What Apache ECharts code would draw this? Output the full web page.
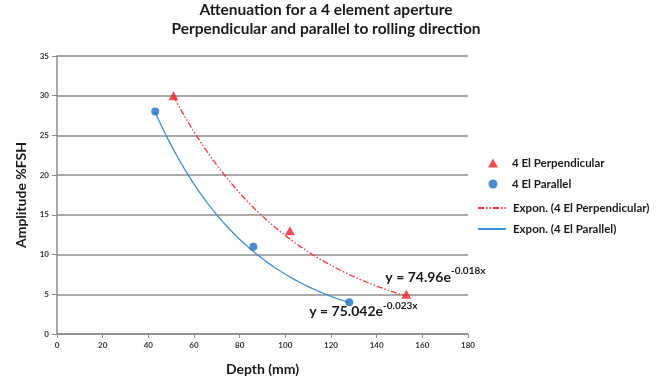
<!DOCTYPE html>
<html>
<head>
<meta charset="utf-8">
<script src="https://cdn.jsdelivr.net/npm/echarts@6/dist/echarts.min.js"></script>
<style>
  html, body { margin: 0; padding: 0; background: #fff; }
  #chart { width: 664px; height: 381px; }
</style>
</head>
<body>
<div id="chart"></div>
<script>
// Measured amplitudes vs. depth for the two probe orientations
const perpDepth = [51, 102, 153];
const perpAmp = [30, 13, 5];
const paraDepth = [43, 86, 128];
const paraAmp = [28, 11, 4];

// Exponential fit coefficients y = a * e^(b x), as printed on the chart
const perpFit = { a: 74.96, b: -0.018 };
const paraFit = { a: 75.042, b: -0.023 };

const xTicks = [0, 20, 40, 60, 80, 100, 120, 140, 160, 180];
const yTicks = [0, 5, 10, 15, 20, 25, 30, 35];

const FONT = 'Lato, "Open Sans", sans-serif';

function pairs(xs, ys) { return xs.map((x, i) => [x, ys[i]]); }

// Sample the fitted curve between the first and last measured depth
function fitCurve(fit, xs) {
  const x0 = xs[0], x1 = xs[xs.length - 1];
  const pts = [];
  const n = 60;
  for (let i = 0; i <= n; i++) {
    const x = x0 + (x1 - x0) * i / n;
    pts.push([x, fit.a * Math.exp(fit.b * x)]);
  }
  return pts;
}

function eqText(fit) {
  return '{m|y = ' + fit.a + 'e}{s|' + fit.b + 'x}';
}

const eqRich = {
  m: { fontFamily: FONT, fontSize: 14, fontWeight: 'bold', color: '#1a1a1a', lineHeight: 18, verticalAlign: 'bottom' },
  s: { fontFamily: FONT, fontSize: 10, fontWeight: 'bold', color: '#1a1a1a', lineHeight: 12, verticalAlign: 'top' }
};

const legendText = { fontFamily: FONT, fontSize: 11.5, fontWeight: 'bold', color: '#1a1a1a', lineHeight: 14 };

const chart = echarts.init(document.getElementById('chart'), null, { renderer: 'canvas' });

chart.setOption({
  backgroundColor: '#ffffff',
  animation: false,
  title: {
    text: 'Attenuation for a 4 element aperture\nPerpendicular and parallel to rolling direction',
    left: 326,
    textAlign: 'center',
    top: 0,
    padding: 0,
    textStyle: { fontFamily: FONT, fontSize: 15.5, fontWeight: 'bold', color: '#1a1a1a', lineHeight: 19 }
  },
  grid: { left: 57, right: 196, top: 56, bottom: 47 },
  legend: [
    {
      // marker entries
      orient: 'vertical',
      left: 488,
      top: 156,
      padding: 0,
      itemWidth: 10,
      itemHeight: 9,
      itemGap: 7,
      symbolKeepAspect: true,
      textStyle: Object.assign({ padding: [0, 0, 0, 9] }, legendText),
      data: [
        { name: '4 El Perpendicular', icon: 'triangle' },
        { name: '4 El Parallel', icon: 'circle' }
      ]
    },
    {
      // trend line entries
      orient: 'vertical',
      left: 477,
      top: 201,
      padding: 0,
      itemWidth: 28,
      itemHeight: 9,
      itemGap: 7,
      textStyle: Object.assign({ padding: [0, 0, 0, 2] }, legendText),
      data: [
        { name: 'Expon. (4 El Perpendicular)', itemStyle: { opacity: 0 } },
        { name: 'Expon. (4 El Parallel)', itemStyle: { opacity: 0 } }
      ]
    }
  ],
  xAxis: {
    type: 'value',
    min: xTicks[0],
    max: xTicks[xTicks.length - 1],
    interval: 20,
    name: 'Depth (mm)',
    nameLocation: 'middle',
    nameGap: 28,
    nameTextStyle: { fontFamily: FONT, fontSize: 14, fontWeight: 'bold', color: '#1a1a1a' },
    axisLine: { show: true, lineStyle: { color: '#8c8c8c', width: 1.5 } },
    axisTick: { show: true, inside: false, length: 4, lineStyle: { color: '#8c8c8c' } },
    axisLabel: { fontFamily: FONT, fontSize: 8, fontWeight: 'bold', color: '#333', margin: 7 },
    splitLine: { show: false }
  },
  yAxis: {
    type: 'value',
    min: yTicks[0],
    max: yTicks[yTicks.length - 1],
    interval: 5,
    name: 'Amplitude %FSH',
    nameLocation: 'middle',
    nameGap: 28,
    nameTextStyle: { fontFamily: FONT, fontSize: 14, fontWeight: 'bold', color: '#1a1a1a' },
    axisLine: { show: true, lineStyle: { color: '#8c8c8c', width: 1.5 } },
    axisTick: { show: true, inside: false, length: 5, lineStyle: { color: '#8c8c8c' } },
    axisLabel: { fontFamily: FONT, fontSize: 8, fontWeight: 'bold', color: '#333', margin: 8 },
    splitLine: { show: true, lineStyle: { color: '#8c8c8c', width: 1.5 } }
  },
  series: [
    {
      name: '4 El Perpendicular',
      type: 'scatter',
      symbol: 'triangle',
      symbolSize: [10, 9],
      itemStyle: { color: '#e8232a' },
      data: pairs(perpDepth, perpAmp),
      z: 5
    },
    {
      name: '4 El Parallel',
      type: 'scatter',
      symbol: 'circle',
      symbolSize: 8,
      itemStyle: { color: '#1f6fc0' },
      data: pairs(paraDepth, paraAmp),
      z: 5
    },
    {
      name: 'Expon. (4 El Perpendicular)',
      type: 'line',
      showSymbol: false,
      symbol: 'none',
      lineStyle: { color: '#ff3030', width: 1.3, type: [6, 2, 1.5, 2, 1.5, 2] },
      itemStyle: { color: '#ff3030' },
      data: fitCurve(perpFit, perpDepth),
      endLabel: {
        show: true,
        formatter: eqText(perpFit),
        rich: eqRich,
        offset: [-29, -21]
      },
      z: 3
    },
    {
      name: 'Expon. (4 El Parallel)',
      type: 'line',
      showSymbol: false,
      symbol: 'none',
      lineStyle: { color: '#3d8fd6', width: 1.3 },
      itemStyle: { color: '#3d8fd6' },
      data: fitCurve(paraFit, paraDepth),
      endLabel: {
        show: true,
        formatter: eqText(paraFit),
        rich: eqRich,
        offset: [-48, 7]
      },
      z: 3
    }
  ]
});
</script>
</body>
</html>
